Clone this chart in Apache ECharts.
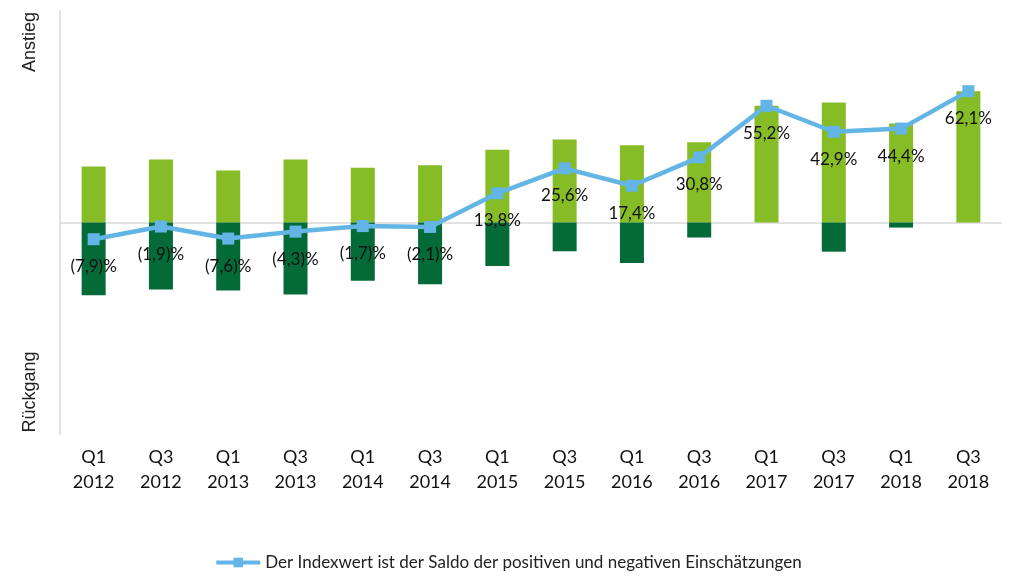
<!DOCTYPE html>
<html>
<head>
<meta charset="utf-8">
<script src="https://cdn.jsdelivr.net/npm/echarts@6/dist/echarts.min.js"></script>
<style>
  html, body { margin: 0; padding: 0; background: #fff; }
  #main { width: 1016px; height: 577px; }
</style>
</head>
<body>
<div id="main"></div>
<script>
// Kategorien (Halbjahre)
const categories = ['Q1\n2012', 'Q3\n2012', 'Q1\n2013', 'Q3\n2013', 'Q1\n2014', 'Q3\n2014', 'Q1\n2015',
  'Q3\n2015', 'Q1\n2016', 'Q3\n2016', 'Q1\n2017', 'Q3\n2017', 'Q1\n2018', 'Q3\n2018'];
// positive Einschätzungen (hellgrün)
const positive = [26.5, 29.8, 24.6, 29.8, 25.9, 27.1, 34.4, 39.2, 36.5, 37.9, 55.2, 56.7, 46.8, 62.1];
// negative Einschätzungen (dunkelgrün)
const negative = [-34.4, -31.7, -32.2, -34.1, -27.6, -29.2, -20.6, -13.6, -19.1, -7.1, 0, -13.8, -2.4, 0];
// Indexwert = Saldo
const indexValues = [-7.9, -1.9, -7.6, -4.3, -1.7, -2.1, 13.8, 25.6, 17.4, 30.8, 55.2, 42.9, 44.4, 62.1];
const lineName = 'Der Indexwert ist der Saldo der positiven und negativen Einschätzungen';

let myChart = echarts.init(document.getElementById('main'));

function fmt(v) {
  let s = Math.abs(v).toFixed(1).replace('.', ',');
  return v < 0 ? '(' + s + ')%' : s + '%';
}

let option = {
  animation: false,
  textStyle: { fontFamily: 'Lato' },
  grid: { left: 60, right: 14, top: 11, bottom: 143 },
  legend: {
    data: [lineName],
    bottom: 1,
    left: 'center',
    itemWidth: 44,
    itemHeight: 12,
    itemGap: 6,
    lineStyle: { width: 4 },
    textStyle: { fontSize: 17, color: '#222', fontFamily: 'Lato' }
  },
  graphic: [
    {
      type: 'text', x: 30, y: 42, rotation: Math.PI / 2,
      style: { text: 'Anstieg', font: '18px "Liberation Sans"', fill: '#222',
        align: 'center', verticalAlign: 'middle', textAlign: 'center', textVerticalAlign: 'middle' }
    },
    {
      type: 'text', x: 30, y: 392, rotation: Math.PI / 2,
      style: { text: 'Rückgang', font: '18px "Liberation Sans"', fill: '#222',
        align: 'center', verticalAlign: 'middle', textAlign: 'center', textVerticalAlign: 'middle' }
    }
  ],
  xAxis: {
    type: 'category',
    data: categories,
    axisLine: { show: false },
    axisTick: { show: false },
    axisLabel: { color: '#111', fontSize: 18, lineHeight: 25, margin: 11, fontFamily: 'Lato' }
  },
  yAxis: {
    type: 'value',
    min: -100,
    max: 100,
    interval: 100,
    axisLabel: { show: false },
    axisTick: { show: false },
    axisLine: { show: true, lineStyle: { color: '#d9d9d9', width: 1.5 } },
    splitLine: { show: true, lineStyle: { color: ['transparent', '#d9d9d9', 'transparent'], width: 1.5 } }
  },
  series: [
    {
      name: 'positiv',
      type: 'bar',
      stack: 'saldo',
      barWidth: 24,
      data: positive,
      itemStyle: { color: '#86BC25' }
    },
    {
      name: 'negativ',
      type: 'bar',
      stack: 'saldo',
      barWidth: 24,
      data: negative,
      itemStyle: { color: '#046A38' }
    },
    {
      name: lineName,
      type: 'line',
      data: indexValues,
      symbol: 'rect',
      symbolSize: 12,
      z: 5,
      lineStyle: { color: '#62B5E5', width: 4.5 },
      itemStyle: { color: '#62B5E5' },
      label: {
        show: true,
        position: 'bottom',
        distance: 13,
        fontSize: 17,
        color: '#111',
        fontFamily: 'Lato',
        formatter: function (p) { return fmt(p.value); }
      }
    }
  ]
};

myChart.setOption(option);
</script>
</body>
</html>
